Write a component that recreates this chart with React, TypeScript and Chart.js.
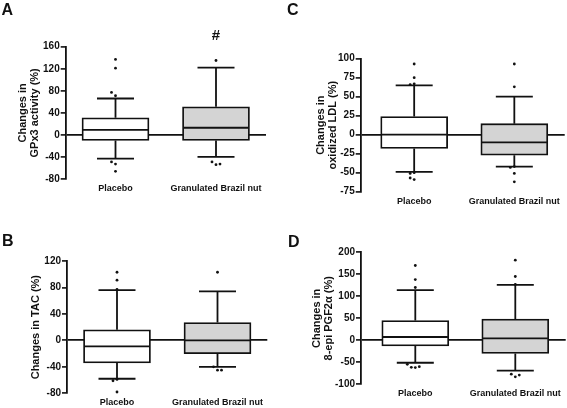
import React, { useEffect, useRef } from 'react';
import { Chart, registerables } from 'chart.js';

Chart.register(...registerables);

const categories = ['Placebo', 'Granulated Brazil nut'];

// Panel A: GPx3 activity
const gpx3Ticks = [-80, -40, 0, 40, 80, 120, 160];
const gpx3Low = [-43, -40];
const gpx3Q1 = [-10, -10];
const gpx3Median = [9, 13];
const gpx3Q3 = [31, 51];
const gpx3High = [66, 122];
const gpx3OutPlacebo = [137, 121, 71, 77, -53, -49, -66];
const gpx3OutBrazil = [135, -54, -49, -53];

// Panel B: TAC
const tacTicks = [-80, -40, 0, 40, 80, 120];
const tacLow = [-58, -40];
const tacQ1 = [-34, -20];
const tacMedian = [-9, 0];
const tacQ3 = [16, 27];
const tacHigh = [76, 74];
const tacOutPlacebo = [103, 91, 77, -59, -61, -78];
const tacOutBrazil = [103, -45, -40, -45];

// Panel C: oxidized LDL
const ldlTicks = [-75, -50, -25, 0, 25, 50, 75, 100];
const ldlLow = [-49, -42];
const ldlQ1 = [-18, -27];
const ldlMedian = [0, -10];
const ldlQ3 = [24, 14.5];
const ldlHigh = [65, 50];
const ldlOutPlacebo = [93, 75, 67, 66, -50, -51, -59, -57];
const ldlOutBrazil = [93, 63, -42, -43, -51, -62];

// Panel D: 8-epi PGF2alpha
const pgfTicks = [-100, -50, 0, 50, 100, 150, 200];
const pgfLow = [-51, -69];
const pgfQ1 = [-13, -30];
const pgfMedian = [7.5, 4.5];
const pgfQ3 = [45, 48.5];
const pgfHigh = [114, 126];
const pgfOutPlacebo = [170, 138, 120, -62, -61.5, -60, -54.5];
const pgfOutBrazil = [182, 145, 127, -83, -77, -79];

const FONT = "'Liberation Sans', Arial, Helvetica, sans-serif";
const INK = '#111111';
const FILLS = ['#ffffff', '#d4d4d4'];

type Group = { low: number; q1: number; median: number; q3: number; high: number; outliers: number[] };

function groups(low: number[], q1: number[], median: number[], q3: number[], high: number[], outs: number[][]): Group[] {
  return categories.map((_, i) => ({ low: low[i], q1: q1[i], median: median[i], q3: q3[i], high: high[i], outliers: outs[i] }));
}

type PanelCfg = {
  letter: string;
  letterX: number;
  letterY: number;
  left: number;
  top: number;
  width: number;
  height: number;
  padTop: number;
  padRight: number;
  yWidth: number;
  xHeight: number;
  xMin: number;
  xMax: number;
  titlePad: number;
  title: string[] | string;
  ticks: number[];
  data: Group[];
  hash?: boolean;
};

const panels: PanelCfg[] = [
  {
    letter: 'A', letterX: 1.5, letterY: 15, left: 0, top: 0, width: 283, height: 212,
    padTop: 46.7, padRight: 17, yWidth: 65.7, xHeight: 33, xMin: -0.4955, xMax: 1.4975,
    titlePad: 16.5, title: ['Changes in', 'GPx3 activity (%)'], ticks: gpx3Ticks,
    data: groups(gpx3Low, gpx3Q1, gpx3Median, gpx3Q3, gpx3High, [gpx3OutPlacebo, gpx3OutBrazil]),
    hash: true,
  },
  {
    letter: 'C', letterX: 4, letterY: 15, left: 283, top: 0, width: 284, height: 212,
    padTop: 58.7, padRight: 2.3, yWidth: 77.7, xHeight: 20.3, xMin: -0.534, xMax: 1.503,
    titlePad: 32, title: ['Changes in', 'oxidized LDL (%)'], ticks: ldlTicks,
    data: groups(ldlLow, ldlQ1, ldlMedian, ldlQ3, ldlHigh, [ldlOutPlacebo, ldlOutBrazil]),
  },
  {
    letter: 'B', letterX: 2, letterY: 45.5, left: 0, top: 200, width: 283, height: 208,
    padTop: 61, padRight: 15.7, yWidth: 67, xHeight: 14.7, xMin: -0.4975, xMax: 1.4955,
    titlePad: 30, title: 'Changes in TAC (%)', ticks: tacTicks,
    data: groups(tacLow, tacQ1, tacMedian, tacQ3, tacHigh, [tacOutPlacebo, tacOutBrazil]),
  },
  {
    letter: 'D', letterX: 5, letterY: 46.5, left: 283, top: 200, width: 284, height: 208,
    padTop: 52.3, padRight: 1.3, yWidth: 78, xHeight: 23.7, xMin: -0.543, xMax: 1.504,
    titlePad: 27.5, title: ['Changes in', '8-epi PGF2\u03B1 (%)'], ticks: pgfTicks,
    data: groups(pgfLow, pgfQ1, pgfMedian, pgfQ3, pgfHigh, [pgfOutPlacebo, pgfOutBrazil]),
  },
];

function Panel({ cfg }: { cfg: PanelCfg }) {
  const ref = useRef<HTMLCanvasElement | null>(null);

  useEffect(() => {
    if (!ref.current) return;
    const capWidth = 37;
    const extras = {
      id: 'boxExtras',
      afterDatasetsDraw(chart: any) {
        const { ctx, scales } = chart;
        const x = scales.x;
        const y = scales.y;
        const meta = chart.getDatasetMeta(0);
        ctx.save();
        ctx.strokeStyle = INK;
        ctx.fillStyle = INK;
        ctx.lineWidth = 1.8;
        cfg.data.forEach((g, i) => {
          const bar = meta.data[i];
          const cx = x.getPixelForValue(i);
          const half = bar.width / 2;
          const cap = capWidth / 2;
          const yHi = y.getPixelForValue(g.high);
          const yQ3 = y.getPixelForValue(g.q3);
          const yMed = y.getPixelForValue(g.median);
          const yQ1 = y.getPixelForValue(g.q1);
          const yLo = y.getPixelForValue(g.low);
          ctx.beginPath();
          ctx.moveTo(cx, yQ3);
          ctx.lineTo(cx, yHi);
          ctx.moveTo(cx - cap, yHi);
          ctx.lineTo(cx + cap, yHi);
          ctx.moveTo(cx, yQ1);
          ctx.lineTo(cx, yLo);
          ctx.moveTo(cx - cap, yLo);
          ctx.lineTo(cx + cap, yLo);
          ctx.moveTo(cx - half + 0.9, yMed);
          ctx.lineTo(cx + half - 0.9, yMed);
          ctx.stroke();
          const placed: { dx: number; py: number }[] = [];
          g.outliers.forEach((v) => {
            const py = y.getPixelForValue(v);
            let dx = 0;
            for (const c of [0, -4, 4, -8, 8]) {
              if (!placed.some((p) => Math.abs(p.dx - c) < 3.5 && Math.abs(p.py - py) < 3.5)) {
                dx = c;
                break;
              }
            }
            placed.push({ dx, py });
            ctx.beginPath();
            ctx.arc(cx + dx, py, 1.4, 0, Math.PI * 2);
            ctx.fill();
          });
        });
        ctx.restore();
      },
      afterDraw(chart: any) {
        const { ctx, scales, chartArea } = chart;
        ctx.save();
        ctx.fillStyle = INK;
        ctx.textBaseline = 'alphabetic';
        ctx.textAlign = 'left';
        ctx.font = `bold 16px ${FONT}`;
        ctx.fillText(cfg.letter, cfg.letterX, cfg.letterY);
        if (cfg.hash) {
          ctx.textAlign = 'center';
          ctx.font = `bold 15px ${FONT}`;
          ctx.fillText('#', scales.x.getPixelForValue(1), chartArea.top - 7);
        }
        ctx.restore();
      },
    };

    const ticks = cfg.ticks;
    const chart = new Chart(ref.current, {
      type: 'bar',
      data: {
        datasets: [
          {
            data: cfg.data.map((g, i) => ({ x: i, y: [g.q1, g.q3] })) as any,
            backgroundColor: FILLS,
            borderColor: INK,
            borderWidth: 1.8,
            borderSkipped: false,
            barThickness: 67,
          },
        ],
      },
      options: {
        responsive: false,
        animation: false,
        events: [],
        layout: { padding: { top: cfg.padTop, right: cfg.padRight, bottom: 0, left: 0 } },
        plugins: { legend: { display: false }, tooltip: { enabled: false }, title: { display: false } },
        scales: {
          x: {
            type: 'linear',
            min: cfg.xMin,
            max: cfg.xMax,
            offset: false,
            grid: { display: false, drawTicks: false, tickLength: 0 },
            border: { display: false },
            afterBuildTicks: (s: any) => {
              s.ticks = categories.map((_, i) => ({ value: i }));
            },
            afterFit: (s: any) => {
              s.height = cfg.xHeight;
            },
            ticks: {
              autoSkip: false,
              maxRotation: 0,
              padding: 4,
              color: INK,
              font: { family: FONT, size: 9, weight: 'bold' },
              callback: (v: any) => categories[Math.round(Number(v))] ?? '',
            },
          },
          y: {
            type: 'linear',
            min: ticks[0],
            max: ticks[ticks.length - 1],
            border: { display: true, color: INK, width: 1.8 },
            grid: {
              display: true,
              drawOnChartArea: true,
              drawTicks: true,
              tickLength: 5,
              lineWidth: 1.8,
              tickWidth: 1.6,
              tickColor: INK,
              color: (c: any) => (c.tick && c.tick.value === 0 ? INK : 'rgba(0,0,0,0)'),
            },
            afterFit: (s: any) => {
              s.width = cfg.yWidth;
            },
            afterBuildTicks: (s: any) => {
              s.ticks = ticks.map((v) => ({ value: v }));
            },
            ticks: {
              padding: 1,
              color: INK,
              autoSkip: false,
              font: { family: FONT, size: 10, weight: 'bold' },
            },
            title: {
              display: true,
              text: cfg.title,
              color: INK,
              font: { family: FONT, size: 11, weight: 'bold', lineHeight: 1.1 },
              padding: { top: cfg.titlePad, bottom: 0 },
            },
          },
        },
      } as any,
      plugins: [extras as any],
    });
    return () => chart.destroy();
  }, [cfg]);

  return (
    <canvas
      ref={ref}
      width={cfg.width}
      height={cfg.height}
      style={{ position: 'absolute', left: cfg.left, top: cfg.top, width: cfg.width, height: cfg.height }}
    />
  );
}

export default function App() {
  return (
    <div style={{ position: 'absolute', left: 0, top: 0, width: 567, height: 408, background: '#ffffff', overflow: 'hidden' }}>
      {panels.map((p) => (
        <Panel key={p.letter} cfg={p} />
      ))}
    </div>
  );
}
